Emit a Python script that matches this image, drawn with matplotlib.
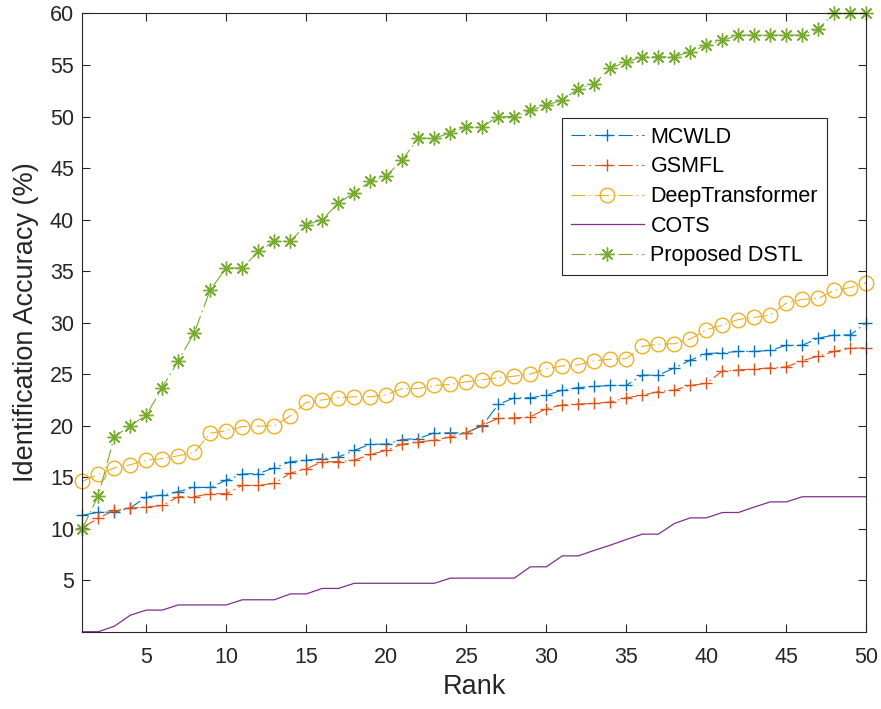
import matplotlib
matplotlib.use("Agg")
import matplotlib.pyplot as plt
import numpy as np

plt.rcParams['font.family'] = ['Liberation Sans', 'DejaVu Sans']

rank = np.arange(1, 51)

mcwld = [11.3, 11.6, 11.6, 12.0, 13.1, 13.25, 13.6, 14.0, 14.0, 14.7,
         15.3, 15.35, 15.9, 16.5, 16.65, 16.8, 16.95, 17.6, 18.2, 18.2,
         18.65, 18.75, 19.3, 19.3, 19.3, 20.0, 22.06, 22.7, 22.7, 22.95,
         23.45, 23.7, 23.8, 23.9, 23.9, 24.9, 24.9, 25.6, 26.35, 27.0,
         27.07, 27.2, 27.2, 27.3, 27.8, 27.8, 28.5, 28.8, 28.8, 30.0]
gsmfl = [10.1, 11.0, 11.8, 12.0, 12.1, 12.25, 13.1, 13.1, 13.4, 13.4,
         14.2, 14.2, 14.4, 15.4, 15.8, 16.5, 16.5, 16.65, 17.2, 17.6,
         18.2, 18.4, 18.6, 18.9, 19.3, 20.05, 20.7, 20.75, 20.85, 21.65,
         22.0, 22.1, 22.15, 22.3, 22.7, 22.95, 23.3, 23.45, 23.9, 24.1,
         25.3, 25.4, 25.5, 25.6, 25.7, 26.3, 26.75, 27.2, 27.5, 27.55]
deep = [14.6, 15.26, 15.9, 16.2, 16.65, 16.8, 17.07, 17.4, 19.27, 19.5,
        19.9, 19.95, 20.0, 20.95, 22.25, 22.5, 22.7, 22.8, 22.8, 23.0,
        23.6, 23.6, 23.9, 24.0, 24.25, 24.45, 24.65, 24.8, 25.0, 25.5,
        25.8, 25.9, 26.3, 26.45, 26.5, 27.7, 27.9, 27.95, 28.4, 29.3,
        29.75, 30.3, 30.5, 30.75, 31.9, 32.25, 32.35, 33.15, 33.4, 33.87]
cots = [0, 0, 0.53, 1.6, 2.1, 2.1, 2.6, 2.6, 2.6, 2.6,
        3.1, 3.1, 3.1, 3.67, 3.67, 4.2, 4.2, 4.7, 4.7, 4.7,
        4.7, 4.7, 4.7, 5.2, 5.2, 5.2, 5.2, 5.2, 6.3, 6.3,
        7.36, 7.36, 7.9, 8.4, 8.95, 9.47, 9.47, 10.5, 11.05, 11.05,
        11.57, 11.57, 12.1, 12.6, 12.6, 13.1, 13.1, 13.1, 13.1, 13.1]
dstl = [10.0, 13.2, 18.9, 20.0, 21.0, 23.7, 26.3, 29.0, 33.2, 35.3,
        35.3, 36.9, 37.9, 37.9, 39.5, 40.0, 41.6, 42.6, 43.7, 44.25,
        45.8, 47.9, 47.9, 48.4, 49.0, 49.0, 50.0, 50.0, 50.6, 51.1,
        51.6, 52.7, 53.2, 54.7, 55.3, 55.8, 55.8, 55.8, 56.3, 56.9,
        57.4, 57.9, 57.9, 57.9, 57.9, 57.9, 58.5, 60.0, 60.0, 60.0]

labels = ['MCWLD', 'GSMFL', 'DeepTransformer', 'COTS', 'Proposed DSTL']
colors = ['#0072BD', '#D95319', '#EDB120', '#7E2F8E', '#77AC30']

# matlab style '-.' : long dash, short gap, dot, short gap
dashdot = (0, (12.6, 3.6, 1.4, 3.6))
txt = '#262626'

fig = plt.figure(figsize=(8.81, 7.09), dpi=100)
ax = fig.add_axes([0.0934, 0.109, 0.89, 0.872])

ax.plot(rank, mcwld, color=colors[0], ls=dashdot, lw=0.8, marker='+', ms=9,
        mew=1.0, label=labels[0], clip_on=False)
ax.plot(rank, gsmfl, color=colors[1], ls=dashdot, lw=0.8, marker='+', ms=9,
        mew=1.0, label=labels[1], clip_on=False)
ax.plot(rank, deep, color=colors[2], ls=dashdot, lw=0.8, marker='o', ms=10.5,
        mew=1.0, mfc='none', label=labels[2], clip_on=False)
ax.plot(rank, cots, color=colors[3], ls='-', lw=0.9, label=labels[3], clip_on=False)
ax.plot(rank, dstl, color=colors[4], ls=dashdot, lw=0.8, marker=(8, 2, 0), ms=10,
        mew=1.0, label=labels[4], clip_on=False)

ax.set_xlim(1, 50)
ax.set_ylim(0, 60)
ax.set_xticks(range(5, 51, 5))
ax.set_yticks(range(5, 61, 5))
ax.tick_params(direction='in', top=True, right=True, length=6, width=0.8,
               labelsize=15.5, colors=txt)
ax.tick_params(axis='x', pad=11)
ax.tick_params(axis='y', pad=6)
for s in ax.spines.values():
    s.set_color(txt)
    s.set_linewidth(0.8)

ax.set_xlabel('Rank', fontsize=19.5, color=txt, labelpad=4)
ax.set_ylabel('Identification Accuracy (%)', fontsize=19.5, color=txt, labelpad=8)

leg = ax.legend(loc='upper left', bbox_to_anchor=(0.612, 0.8306), borderaxespad=0,
                fontsize=15.5, handlelength=3.4, handletextpad=0.3,
                labelspacing=0.4, borderpad=0.4, fancybox=False, framealpha=1)
leg.get_frame().set_edgecolor(txt)
leg.get_frame().set_linewidth(0.8)
for t in leg.get_texts():
    t.set_color('black')

fig.savefig('out.png', dpi=100)
